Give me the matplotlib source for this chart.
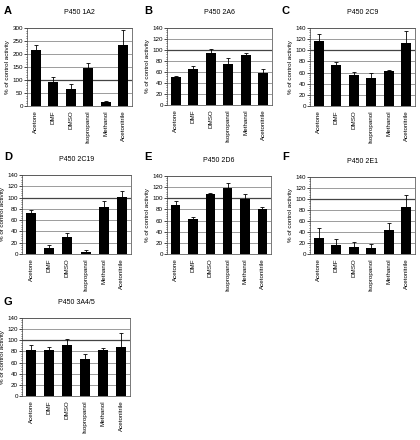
import numpy as np
import matplotlib
matplotlib.use("Agg")
import matplotlib.pyplot as plt

plt.rcParams['font.family'] = ['Liberation Sans', 'DejaVu Sans']

solvents = ['Acetone', 'DMF', 'DMSO', 'Isopropanol', 'Methanol', 'Acetonitrile']

letters = ['A', 'B', 'C', 'D', 'E', 'F', 'G']
titles = ['P450 1A2', 'P450 2A6', 'P450 2C9', 'P450 2C19', 'P450 2D6', 'P450 2E1', 'P450 3A4/5']

vals_1a2 = [215, 92, 67, 148, 14, 233]
err_1a2 = [20, 18, 17, 18, 4, 60]
vals_2a6 = [50, 66, 94, 75, 91, 59]
err_2a6 = [3, 4, 8, 10, 3, 6]
vals_2c9 = [117, 74, 55, 51, 62, 113]
err_2c9 = [13, 5, 6, 9, 2, 22]
vals_2c19 = [73, 10, 31, 4, 83, 101]
err_2c19 = [5, 6, 7, 3, 11, 11]
vals_2d6 = [88, 63, 107, 118, 98, 81]
err_2d6 = [7, 4, 3, 9, 9, 4]
vals_2e1 = [29, 16, 13, 10, 44, 85]
err_2e1 = [18, 11, 8, 8, 13, 23]
vals_3a4 = [82, 82, 92, 66, 83, 88]
err_3a4 = [10, 6, 11, 9, 3, 25]

all_vals = [vals_1a2, vals_2a6, vals_2c9, vals_2c19, vals_2d6, vals_2e1, vals_3a4]
all_errs = [err_1a2, err_2a6, err_2c9, err_2c19, err_2d6, err_2e1, err_3a4]

W, H = 420, 440
fig = plt.figure(figsize=(W / 100, H / 100), dpi=100)

# axes boxes in pixels: left, top, right, bottom
boxes = [
    (27, 28, 132, 106), (167, 28, 272, 105), (310, 28, 415, 106),
    (22, 175, 131, 254), (167, 176, 271, 254), (310, 177, 415, 254),
    (22, 318, 130, 396),
]
letter_pos = [(4, 14), (144, 14), (282, 14), (4, 160), (144, 160), (282, 160), (4, 305)]

for i in range(7):
    l, t, r, b = boxes[i]
    ax = fig.add_axes([l / W, 1 - b / H, (r - l) / W, (b - t) / H])
    x = np.arange(len(solvents))
    ax.bar(x, all_vals[i], width=0.55, color='black', zorder=3)
    ax.errorbar(x, all_vals[i], yerr=[np.zeros(6), all_errs[i]], fmt='none',
                ecolor='black', elinewidth=0.6, capsize=1.5, capthick=0.6, zorder=3)
    if i == 0:
        ymax, step = 300, 50
    else:
        ymax, step = 140, 20
    ax.set_ylim(0, ymax)
    ax.set_xlim(-0.5, 5.5)
    ticks = np.arange(0, ymax + 1, step)
    ax.set_yticks(ticks)
    ax.set_yticks(np.arange(0, ymax + 1, step / 5), minor=True)
    for tk in ticks[1:]:
        if tk == 100:
            ax.axhline(tk, color='#444444', lw=0.9, zorder=1)
        else:
            ax.axhline(tk, color='#8c8c8c', lw=0.6, zorder=1)
    ax.set_xticks(x)
    ax.set_xticklabels(solvents, rotation=90, fontsize=4.5)
    ax.tick_params(axis='y', labelsize=4.5, length=2, width=0.5, pad=1)
    ax.tick_params(axis='y', which='minor', length=1, width=0.4)
    ax.tick_params(axis='x', length=0, pad=3)
    for s in ax.spines.values():
        s.set_linewidth(0.5)
        s.set_color('#444444')
    ax.set_ylabel('% of control activity', fontsize=4.5, labelpad=2)
    ax.set_title(titles[i], fontsize=5, pad=10)
    fig.text(letter_pos[i][0] / W, 1 - letter_pos[i][1] / H, letters[i],
             fontsize=8, fontweight='bold', ha='left', va='baseline')

fig.savefig('out.png', dpi=100)
